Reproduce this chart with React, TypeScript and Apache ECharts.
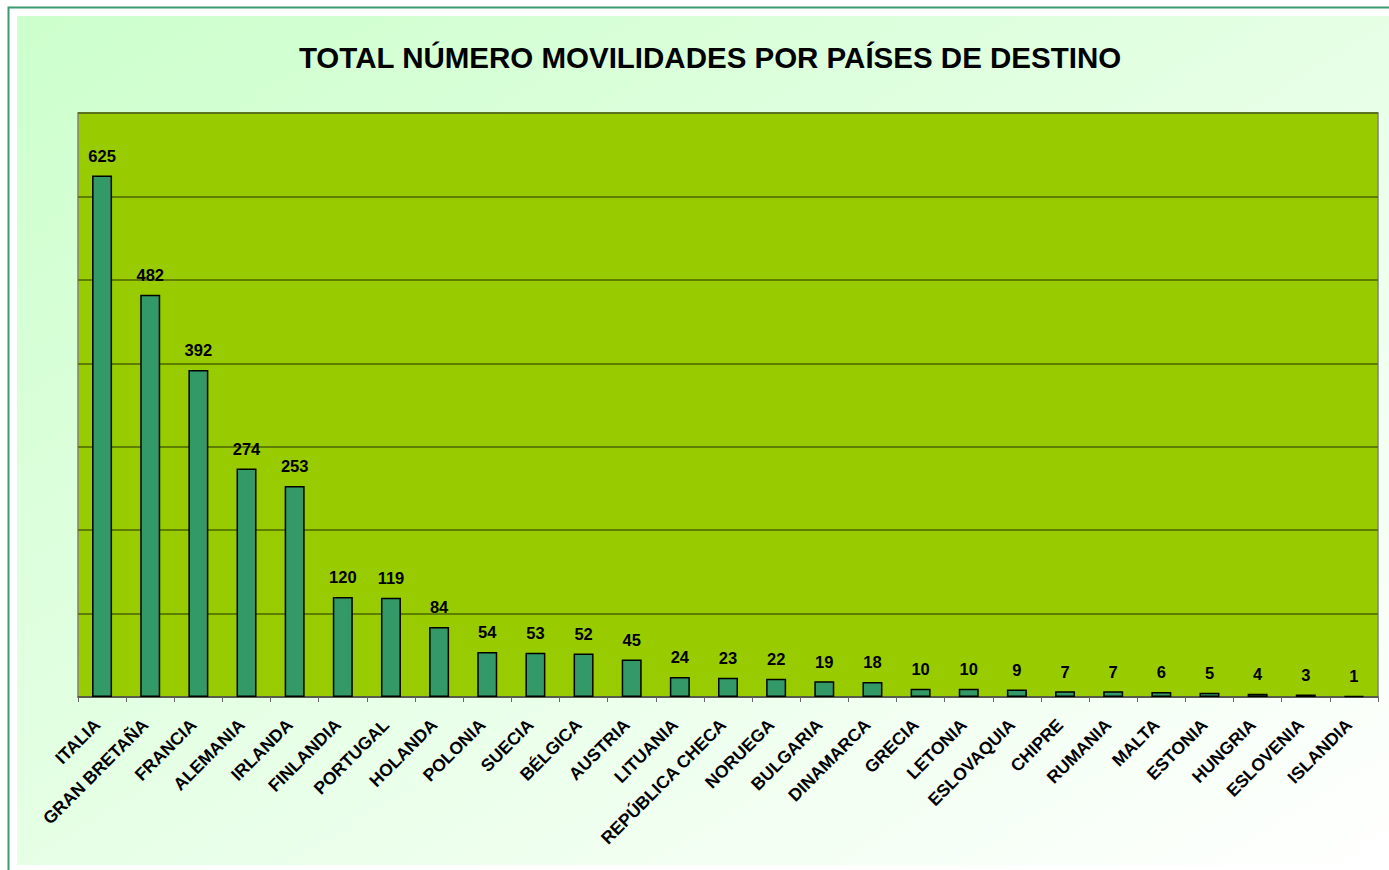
import React, { useEffect, useRef } from "react";
import * as echarts from "echarts";

const countries = [
  "ITALIA", "GRAN BRETAÑA", "FRANCIA", "ALEMANIA", "IRLANDA", "FINLANDIA", "PORTUGAL",
  "HOLANDA", "POLONIA", "SUECIA", "BÉLGICA", "AUSTRIA", "LITUANIA", "REPÚBLICA CHECA",
  "NORUEGA", "BULGARIA", "DINAMARCA", "GRECIA", "LETONIA", "ESLOVAQUIA", "CHIPRE",
  "RUMANIA", "MALTA", "ESTONIA", "HUNGRIA", "ESLOVENIA", "ISLANDIA",
];
const movilidades = [625, 482, 392, 274, 253, 120, 119, 84, 54, 53, 52, 45, 24, 23, 22, 19, 18, 10, 10, 9, 7, 7, 6, 5, 4, 3, 1];
const titleText = "TOTAL NÚMERO MOVILIDADES POR PAÍSES DE DESTINO";

const FONT = "'Liberation Sans', Arial, sans-serif";

export default function App() {
  const ref = useRef<HTMLDivElement>(null);
  useEffect(() => {
    if (!ref.current) return;
    const chart = echarts.init(ref.current, null, { renderer: "svg" });
    chart.setOption({
      animation: false,
      backgroundColor: "#ffffff",
      graphic: [
        {
          type: "rect",
          z: -10,
          silent: true,
          shape: { x: 17, y: 16, width: 1380, height: 849 },
          style: {
            fill: new echarts.graphic.LinearGradient(0, 0, 1, 1, [
              { offset: 0, color: "#CCFFCC" },
              { offset: 1, color: "#FFFFFF" },
            ]),
          },
        },
        {
          type: "polyline",
          z: -9,
          silent: true,
          shape: { points: [[8.5, 880], [8.5, 7.5], [1400, 7.5]] },
          style: { stroke: "#3D9970", lineWidth: 2, fill: "none" },
        },
      ],
      title: {
        text: titleText,
        left: 705,
        textAlign: "center",
        top: 37,
        textStyle: { fontFamily: FONT, fontWeight: "bold", fontSize: 29.5, color: "#000" },
      },
      grid: {
        left: 78,
        top: 113,
        width: 1300,
        height: 584,
        show: true,
        backgroundColor: "#99CC00",
        borderColor: "#808080",
        borderWidth: 1.5,
        containLabel: false,
      },
      xAxis: {
        type: "category",
        data: countries,
        axisLine: { show: true, lineStyle: { color: "#555555", width: 1.5 } },
        axisTick: { show: true, length: 5, lineStyle: { color: "#666666", width: 1 } },
        axisLabel: {
          rotate: 45,
          interval: 0,
          margin: 20,
          padding: [0, 7, 0, 0],
          fontFamily: FONT,
          fontWeight: "bold",
          fontSize: 17.5,
          color: "#000",
        },
      },
      yAxis: {
        type: "value",
        min: 0,
        max: 700,
        interval: 100,
        axisLine: { show: false },
        axisTick: { show: false },
        axisLabel: { show: false },
        splitLine: { show: true, lineStyle: { color: "#4A6400", width: 1.5 } },
      },
      series: [
        {
          type: "bar",
          data: movilidades,
          barWidth: 20,
          itemStyle: { color: "#339966", borderColor: "#000000", borderWidth: 1.5 },
          label: {
            show: true,
            position: "top",
            distance: 11,
            fontFamily: FONT,
            fontWeight: "bold",
            fontSize: 16.5,
            color: "#000",
          },
        },
      ],
    });
    return () => chart.dispose();
  }, []);
  return (
    <div
      ref={ref}
      style={{ position: "fixed", left: 0, top: 0, width: 1389, height: 870 }}
    />
  );
}
